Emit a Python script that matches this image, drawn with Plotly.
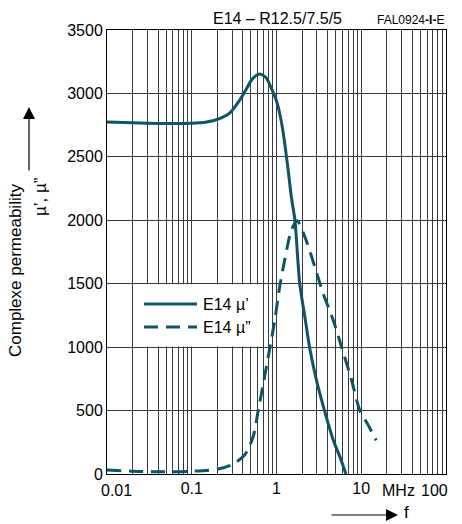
import plotly.graph_objects as go

# Complex permeability of E14 - R12.5/7.5/5 toroid versus frequency
freq_real = [0.01, 0.02, 0.03, 0.05, 0.1, 0.15, 0.2, 0.28, 0.37, 0.45, 0.5,
             0.57, 0.65, 0.75, 0.87, 1.0, 1.1, 1.2, 1.37, 1.5, 1.65, 1.78, 1.88,
             2.16, 2.47, 2.96, 3.72, 4.66, 5.6, 6.6]
mu_real = [2775, 2768, 2765, 2763, 2765, 2775, 2795, 2845, 2950, 3045, 3100,
           3140, 3152, 3125, 3040, 2940, 2830, 2690, 2400, 2180, 2000, 1700, 1500,
           1240, 990, 740, 490, 270, 135, 0]

freq_imag = [0.01, 0.02, 0.03, 0.05, 0.1, 0.2, 0.3, 0.42, 0.53, 0.61, 0.7, 0.83,
             0.955, 1.09, 1.25, 1.5, 1.75, 2.16, 2.83, 3.55, 4.66, 5.85, 7.68,
             9.6, 12, 15]
mu_imag = [31, 22, 18, 18, 22, 38, 75, 150, 294, 504, 715, 985,
           1214, 1476, 1687, 1923, 1997, 1870, 1634, 1424, 1214, 1003, 741,
           504, 389, 265]

y_ticks = [0, 500, 1000, 1500, 2000, 2500, 3000, 3500]
x_decades = [0.01, 0.1, 1, 10, 100]
x_decade_labels = ["", "0.1", "1", "10", ""]

legend_names = ["E14 µ’", "E14 µ”"]

COLOR = "#0d5566"
FONT = "Liberation Sans, Arial, Helvetica, sans-serif"
W, H = 462, 524
ML, MR, MT, MB = 107, 16, 30, 50
PW, PH = W - ML - MR, H - MT - MB


def px(x):
    return (x - ML) / PW


def py(y):
    return (H - MB - y) / PH


# grid positions: every 1..9 multiple within each decade
grid_vals, grid_text = [], []
for d, lab in zip(x_decades, x_decade_labels):
    for m in range(1, 10):
        v = d * m
        if v > 100.0001:
            break
        grid_vals.append(v)
        grid_text.append(lab if m == 1 else "")

fig = go.Figure()
fig.add_trace(go.Scatter(x=freq_real, y=mu_real, mode="lines", name=legend_names[0],
                         line=dict(color=COLOR, width=3, shape="spline", smoothing=0.8),
                         showlegend=False))
fig.add_trace(go.Scatter(x=freq_imag, y=mu_imag, mode="lines", name=legend_names[1],
                         line=dict(color=COLOR, width=3, shape="spline", smoothing=0.8,
                                   dash="14px,8px"),
                         showlegend=False))

fig.update_layout(
    width=W, height=H,
    margin=dict(l=ML, r=MR, t=MT, b=MB),
    paper_bgcolor="white", plot_bgcolor="white",
    font=dict(family=FONT, size=16, color="black"),
    xaxis=dict(type="log", range=[-2, 2], tickvals=grid_vals, ticktext=grid_text,
               showgrid=True, gridcolor="#3a3a3a", gridwidth=1, zeroline=False,
               showline=True, linecolor="black", linewidth=1, mirror=True,
               ticks="", tickfont=dict(size=16)),
    yaxis=dict(range=[0, 3500], tickvals=y_ticks, showgrid=True, gridcolor="#3a3a3a",
               gridwidth=1, zeroline=False, showline=True, linecolor="black",
               linewidth=1, mirror=True, ticks="", tickfont=dict(size=16)),
)

# white legend panel hiding the grid behind it
fig.add_shape(type="rect", xref="paper", yref="y", x0=px(134), x1=px(261),
              y0=1005, y1=1495, fillcolor="white", line=dict(width=0), layer="above")

# legend samples and labels
leg_rows = [(304, "solid"), (327, "14px,8px")]
for (yy, dash), name in zip(leg_rows, legend_names):
    fig.add_shape(type="line", xref="paper", yref="paper", x0=px(144), x1=px(197),
                  y0=py(yy), y1=py(yy), line=dict(color=COLOR, width=3, dash=dash),
                  layer="above")
    fig.add_annotation(xref="paper", yref="paper", x=px(201), y=py(yy), text=name,
                       showarrow=False, xanchor="left", yanchor="middle",
                       font=dict(size=16))

# end labels of the frequency axis sit inside the frame edges, plus the unit
annotations = [
    dict(x=px(277), y=py(18), text="E14 – R12.5/7.5/5", size=16, xanchor="center"),
    dict(x=px(446), y=py(20), text="FAL0924<b>-I-</b>E", size=12, xanchor="right"),
    dict(x=px(116), y=py(490), text="0.01", size=16, xanchor="center"),
    dict(x=px(398), y=py(490), text="MHz", size=16, xanchor="center"),
    dict(x=px(434), y=py(490), text="100", size=16, xanchor="center"),
    dict(x=px(406), y=py(512), text="f", size=17, xanchor="center"),
]
for a in annotations:
    fig.add_annotation(xref="paper", yref="paper", x=a["x"], y=a["y"], text=a["text"],
                       showarrow=False, xanchor=a["xanchor"], yanchor="middle",
                       font=dict(size=a["size"]))

# y-axis title, two rotated lines
fig.add_annotation(xref="paper", yref="paper", x=px(15), y=py(271),
                   text="Complexe permeability", textangle=-90, showarrow=False,
                   xanchor="center", yanchor="middle", font=dict(size=17))
fig.add_annotation(xref="paper", yref="paper", x=px(40), y=py(197),
                   text="µ’, µ”", textangle=-90, showarrow=False,
                   xanchor="center", yanchor="middle", font=dict(size=17))

# direction arrows
fig.add_annotation(xref="paper", yref="paper", x=px(29), y=py(107), ax=0, ay=65,
                   text="", showarrow=True,
                   arrowhead=2, arrowsize=2, arrowwidth=1.2, arrowcolor="black")
fig.add_annotation(xref="paper", yref="paper", x=px(398), y=py(515), ax=-68, ay=0,
                   text="", showarrow=True,
                   arrowhead=2, arrowsize=2, arrowwidth=1.2, arrowcolor="black")

fig.write_html("out.html")
